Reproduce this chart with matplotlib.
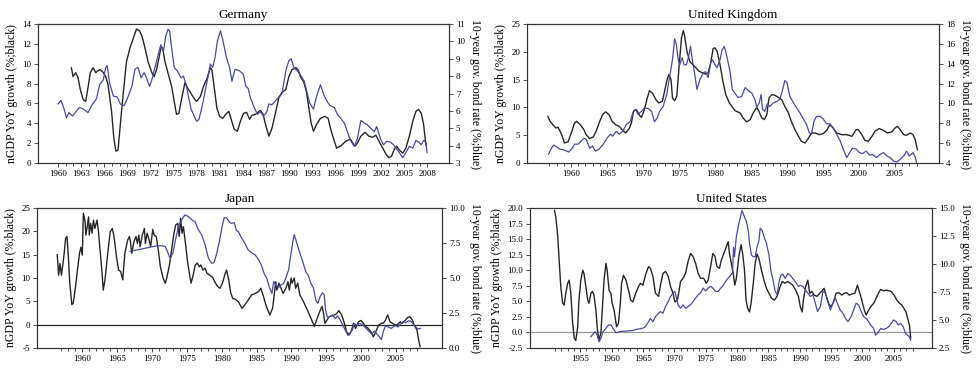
import matplotlib
matplotlib.use("Agg")
import matplotlib.pyplot as plt
from matplotlib.ticker import FixedLocator, FormatStrFormatter

plt.rcParams["font.family"] = ["Liberation Serif", "DejaVu Serif"]

# ============================================
# Germany
# ============================================
de_gdp_yr = [1961.74, 1961.96, 1962.3, 1962.6, 1962.9, 1963.26, 1963.6, 1963.9, 1964.2, 1964.57,
             1964.9, 1965.2, 1965.5, 1965.9, 1966.2, 1966.5, 1966.96, 1967.26, 1967.52, 1967.8,
             1968.1, 1968.5, 1968.9, 1969.35, 1969.8, 1970.2, 1970.6, 1970.9, 1971.3, 1971.7,
             1972.2, 1972.5, 1972.8, 1973.2, 1973.4, 1973.6, 1973.9, 1974.35, 1974.8, 1975.1,
             1975.4, 1975.7, 1976.1, 1976.5, 1976.8, 1977.2, 1977.6, 1978.0, 1978.5, 1978.9,
             1979.35, 1979.8, 1980.0, 1980.3, 1980.65, 1981.0, 1981.4, 1981.9, 1982.2, 1982.5,
             1982.9, 1983.3, 1983.7, 1984.1, 1984.5, 1984.9, 1985.2, 1985.65, 1986.3, 1986.65,
             1986.96, 1987.4, 1987.8, 1988.3, 1988.7, 1989.1, 1989.6, 1990.0, 1990.4, 1990.9,
             1991.2, 1991.5, 1991.96, 1992.3, 1992.6, 1992.9, 1993.2, 1993.6, 1994.1, 1994.65,
             1995.1, 1995.4, 1995.9, 1996.2, 1996.7, 1997.4, 1998.0, 1998.3, 1998.6, 1998.9,
             1999.35, 1999.9, 2000.4, 2000.9, 2001.3, 2001.7, 2002.2, 2002.6, 2003.0, 2003.35,
             2003.7, 2004.0, 2004.35, 2004.8, 2005.2, 2005.65, 2006.1, 2006.5, 2006.85, 2007.2,
             2007.5, 2007.8]
de_gdp = [9.6, 8.7, 9.1, 8.6, 7.4, 6.4, 6.2, 7.6, 9.1, 9.6,
          9.1, 9.3, 9.4, 9.1, 8.7, 7.9, 5.2, 2.5, 1.2, 1.3,
          3.9, 7.2, 10.2, 11.6, 12.6, 13.5, 13.3, 12.8, 11.6, 10.2,
          9.1, 8.7, 9.4, 10.9, 11.7, 11.6, 10.2, 8.9, 7.6, 6.2,
          4.9, 5.0, 6.6, 8.1, 7.6, 7.1, 6.6, 6.2, 6.7, 7.7,
          8.5, 9.6, 9.4, 7.6, 5.5, 4.7, 4.5, 5.0, 5.2, 4.4,
          3.4, 3.2, 4.2, 5.0, 5.1, 4.4, 4.8, 4.9, 5.3, 4.9,
          3.9, 2.7, 3.5, 5.2, 6.6, 7.1, 7.4, 8.7, 9.4, 9.6,
          9.4, 8.7, 8.1, 7.1, 5.5, 4.0, 3.2, 3.9, 4.5, 4.7,
          4.5, 3.5, 2.2, 1.5, 1.7, 2.2, 2.4, 2.0, 1.7, 2.0,
          2.7, 3.1, 2.7, 2.6, 2.8, 2.2, 1.5, 0.9, 0.55, 0.7,
          1.4, 1.7, 1.3, 1.0, 1.5, 2.7, 4.2, 5.2, 5.4, 5.0,
          3.9, 1.8]

de_bond_yr = [1960.0, 1960.4, 1960.8, 1961.1, 1961.4, 1961.9, 1962.4, 1962.8, 1963.3, 1963.9,
              1964.35, 1965.0, 1965.4, 1965.9, 1966.2, 1966.4, 1966.7, 1967.2, 1967.7, 1968.1,
              1968.6, 1969.0, 1969.6, 1970.0, 1970.4, 1970.8, 1971.2, 1971.5, 1971.9, 1972.2,
              1972.6, 1973.0, 1973.35, 1973.7, 1974.0, 1974.3, 1974.5, 1974.8, 1975.1, 1975.5,
              1976.0, 1976.3, 1976.65, 1977.0, 1977.3, 1977.6, 1978.0, 1978.3, 1978.7, 1979.1,
              1979.6, 1979.8, 1980.1, 1980.4, 1980.7, 1981.1, 1981.4, 1981.9, 1982.3, 1982.6,
              1983.0, 1983.6, 1984.1, 1984.4, 1984.7, 1985.0, 1985.4, 1985.9, 1986.3, 1986.7,
              1987.1, 1987.4, 1987.8, 1988.3, 1988.7, 1989.1, 1989.6, 1990.0, 1990.3, 1990.65,
              1991.1, 1991.6, 1992.0, 1992.4, 1992.7, 1993.2, 1993.6, 1994.1, 1994.6, 1995.1,
              1995.4, 1995.9, 1996.3, 1996.7, 1997.2, 1997.6, 1998.0, 1998.5, 1998.9, 1999.35,
              1999.8, 2000.2, 2000.65, 2001.1, 2001.4, 2001.9, 2002.3, 2002.7, 2003.2, 2003.6,
              2003.9, 2004.35, 2004.8, 2005.2, 2005.65, 2006.1, 2006.5, 2006.9, 2007.2, 2007.5,
              2007.8, 2007.96]
de_bond = [6.4, 6.6, 6.1, 5.6, 5.9, 5.7, 6.0, 6.2, 6.1, 5.9,
           6.3, 6.7, 7.5, 7.8, 8.5, 8.6, 7.6, 6.85, 6.8, 6.4,
           6.3, 6.7, 7.4, 8.4, 8.5, 7.9, 8.2, 7.9, 7.4, 7.8,
           8.5, 9.2, 9.8, 9.4, 10.3, 10.7, 10.6, 9.5, 8.5, 8.3,
           7.9, 8.0, 7.5, 6.7, 6.1, 5.8, 5.4, 5.5, 6.2, 7.1,
           8.2, 8.7, 8.5, 9.05, 10.0, 10.6, 10.1, 9.05, 8.5, 7.7,
           8.4, 8.3, 8.1, 7.4, 7.3, 6.75, 6.3, 5.8, 5.95, 5.7,
           5.9, 6.4, 6.35, 6.6, 6.8, 6.98, 8.3, 8.9, 9.0, 8.5,
           8.3, 8.0, 7.7, 7.0, 6.45, 6.1, 6.85, 7.5, 6.85, 6.45,
           6.3, 6.2, 5.8, 5.6, 5.3, 4.8, 4.3, 3.96, 4.4, 5.45,
           5.3, 5.2, 5.0, 4.8, 5.1, 4.4, 4.05, 4.25, 4.2, 4.05,
           3.86, 3.6, 3.3, 3.6, 3.96, 3.86, 4.3, 4.2, 4.05, 4.3,
           4.2, 3.6]

# ============================================
# United Kingdom
# ============================================
uk_gdp_yr = [1956.8, 1957.1, 1957.5, 1957.9, 1958.2, 1958.5, 1958.8, 1959.1, 1959.6, 1960.05,
             1960.5, 1960.8, 1961.3, 1961.8, 1962.1, 1962.6, 1963.1, 1963.5, 1964.0, 1964.4,
             1964.8, 1965.3, 1965.7, 1966.2, 1966.7, 1967.1, 1967.6, 1968.1, 1968.4, 1968.7,
             1969.1, 1969.5, 1969.8, 1970.2, 1970.6, 1970.9, 1971.3, 1971.8, 1972.2, 1972.7,
             1973.0, 1973.35, 1973.6, 1973.9, 1974.1, 1974.4, 1974.7, 1975.0, 1975.35, 1975.6,
             1975.8, 1976.1, 1976.5, 1976.9, 1977.3, 1977.8, 1978.3, 1978.7, 1979.05, 1979.4,
             1979.75, 1980.0, 1980.3, 1980.7, 1981.1, 1981.5, 1982.0, 1982.5, 1982.8, 1983.5,
             1983.9, 1984.4, 1984.9, 1985.3, 1985.8, 1986.1, 1986.5, 1986.85, 1987.2, 1987.5,
             1987.9, 1988.3, 1988.8, 1989.25, 1989.7, 1990.2, 1990.6, 1991.1, 1991.6, 1992.0,
             1992.5, 1993.0, 1993.4, 1993.9, 1994.5, 1995.05, 1995.5, 1995.95, 1996.4, 1996.9,
             1997.6, 1998.3, 1999.0, 1999.6, 1999.9, 2000.4, 2000.8, 2001.3, 2001.8, 2002.2,
             2002.8, 2003.4, 2003.95, 2004.55, 2005.0, 2005.35, 2005.7, 2006.2, 2006.6, 2007.1,
             2007.5, 2007.8, 2008.1]
uk_gdp = [8.4, 7.5, 6.9, 6.3, 6.45, 5.7, 4.8, 3.6, 3.8, 5.4,
          7.2, 7.5, 6.9, 6.0, 5.1, 4.4, 4.7, 5.7, 7.5, 8.7,
          9.2, 8.7, 7.5, 6.9, 6.6, 6.0, 5.4, 6.2, 7.2, 9.4,
          9.6, 8.6, 8.2, 9.6, 11.7, 13.0, 12.6, 11.4, 10.8, 11.1,
          12.9, 15.0, 15.9, 15.0, 11.7, 11.2, 12.0, 17.1, 22.5, 23.8,
          22.8, 20.1, 18.3, 17.7, 17.2, 16.5, 16.2, 16.0, 16.2, 18.0,
          20.6, 20.7, 20.1, 17.7, 14.7, 12.3, 10.8, 9.9, 9.4, 9.0,
          8.1, 7.4, 7.8, 9.0, 10.0, 9.3, 8.1, 7.8, 8.7, 11.7,
          12.3, 12.2, 11.8, 11.4, 10.2, 9.0, 7.5, 6.0, 4.8, 3.9,
          3.6, 4.5, 5.4, 5.4, 5.1, 5.3, 5.85, 6.9, 6.3, 5.4,
          5.1, 5.1, 4.8, 6.0, 6.0, 5.1, 4.1, 3.9, 4.8, 5.7,
          6.2, 5.85, 5.4, 5.6, 6.3, 6.6, 6.0, 5.1, 5.0, 5.4,
          5.1, 4.2, 2.4]

uk_bond_yr = [1956.9, 1957.3, 1957.6, 1958.05, 1958.5, 1959.1, 1959.7, 1960.2, 1960.5, 1961.0,
              1961.4, 1961.8, 1962.1, 1962.6, 1963.0, 1963.4, 1963.9, 1964.5, 1965.0, 1965.5,
              1965.8, 1966.3, 1966.7, 1967.2, 1967.7, 1968.2, 1968.6, 1969.0, 1969.3, 1969.8,
              1970.2, 1970.7, 1971.2, 1971.6, 1972.0, 1972.3, 1972.8, 1973.3, 1973.7, 1974.1,
              1974.4, 1974.65, 1974.9, 1975.1, 1975.45, 1975.7, 1976.05, 1976.4, 1976.6, 1976.9,
              1977.2, 1977.5, 1977.9, 1978.4, 1978.7, 1979.05, 1979.4, 1979.65, 1980.0, 1980.3,
              1980.7, 1981.0, 1981.3, 1981.6, 1982.1, 1982.4, 1982.8, 1983.2, 1983.7, 1984.2,
              1984.6, 1985.1, 1985.55, 1985.8, 1986.15, 1986.4, 1986.6, 1986.9, 1987.3, 1987.6,
              1988.1, 1988.6, 1989.0, 1989.4, 1989.7, 1990.0, 1990.4, 1990.9, 1991.3, 1991.8,
              1992.3, 1992.7, 1993.1, 1993.4, 1993.75, 1994.1, 1994.6, 1995.05, 1995.5, 1995.95,
              1996.4, 1996.9, 1997.4, 1997.8, 1998.3, 1998.7, 1999.1, 1999.6, 2000.05, 2000.5,
              2001.0, 2001.45, 2001.9, 2002.4, 2002.9, 2003.4, 2003.9, 2004.3, 2004.8, 2005.25,
              2005.7, 2006.2, 2006.6, 2007.0, 2007.5, 2007.8, 2008.0]
uk_bond = [4.9, 5.5, 5.8, 5.6, 5.4, 5.3, 5.1, 5.5, 5.9, 5.9,
           6.2, 6.5, 6.4, 5.5, 5.7, 5.2, 5.4, 5.9, 6.5, 6.9,
           6.7, 7.2, 6.9, 7.2, 7.9, 8.15, 9.05, 9.4, 8.9, 9.2,
           9.55, 9.5, 9.2, 8.15, 8.55, 9.2, 9.7, 10.9, 12.7, 14.4,
           16.5, 15.9, 14.4, 13.9, 14.6, 13.9, 13.9, 14.9, 15.75, 14.2,
           12.9, 11.4, 12.4, 13.1, 13.2, 12.6, 14.1, 14.4, 13.9, 13.6,
           14.4, 15.4, 15.75, 14.9, 13.2, 11.4, 11.0, 10.6, 10.7, 11.6,
           11.3, 11.05, 10.4, 9.6, 10.05, 10.9, 9.4, 9.2, 10.0, 9.7,
           10.05, 10.2, 10.4, 11.4, 12.3, 12.1, 10.7, 10.05, 9.6, 9.05,
           8.4, 7.9, 7.05, 6.9, 8.2, 8.7, 8.7, 8.4, 7.95, 7.95,
           7.55, 6.9, 6.2, 5.4, 4.55, 5.05, 5.5, 5.4, 5.05, 4.95,
           5.2, 4.8, 4.85, 4.55, 4.85, 5.05, 4.7, 4.55, 4.2, 4.1,
           4.35, 4.7, 5.2, 4.7, 5.05, 4.6, 4.0]

# ============================================
# Japan
# ============================================
jp_gdp_yr = [1956.4, 1956.6, 1956.8, 1957.0, 1957.2, 1957.4, 1957.6, 1957.8, 1958.0, 1958.2,
             1958.5, 1958.7, 1959.0, 1959.3, 1959.6, 1959.8, 1960.0, 1960.15, 1960.4, 1960.5,
             1960.7, 1960.9, 1961.0, 1961.2, 1961.4, 1961.6, 1961.8, 1962.1, 1962.3, 1962.5,
             1962.8, 1963.0, 1963.25, 1963.6, 1964.0, 1964.3, 1964.55, 1964.9, 1965.2, 1965.5,
             1965.8, 1966.1, 1966.5, 1966.75, 1966.9, 1967.1, 1967.4, 1967.7, 1967.9, 1968.1,
             1968.3, 1968.6, 1968.9, 1969.05, 1969.3, 1969.6, 1969.8, 1970.1, 1970.3, 1970.6,
             1970.9, 1971.2, 1971.6, 1971.9, 1972.1, 1972.5, 1972.8, 1973.15, 1973.4, 1973.7,
             1973.9, 1974.1, 1974.3, 1974.5, 1974.8, 1975.1, 1975.4, 1975.6, 1975.9, 1976.2,
             1976.5, 1976.8, 1977.0, 1977.3, 1977.6, 1977.9, 1978.3, 1978.7, 1979.0, 1979.4,
             1979.75, 1980.1, 1980.5, 1980.7, 1981.0, 1981.3, 1981.6, 1981.9, 1982.4, 1982.9,
             1983.3, 1983.8, 1984.3, 1984.8, 1985.3, 1985.6, 1986.0, 1986.4, 1986.9, 1987.3,
             1987.55, 1987.75, 1987.9, 1988.2, 1988.5, 1988.8, 1989.2, 1989.5, 1989.7, 1989.95,
             1990.1, 1990.4, 1990.6, 1990.9, 1991.2, 1991.6, 1991.95, 1992.3, 1992.7, 1993.0,
             1993.3, 1993.6, 1993.95, 1994.25, 1994.4, 1994.6, 1994.8, 1995.1, 1995.4, 1995.8,
             1996.2, 1996.5, 1996.8, 1997.2, 1997.6, 1997.9, 1998.3, 1998.65, 1998.9, 1999.2,
             1999.6, 2000.0, 2000.3, 2000.7, 2001.0, 2001.4, 2001.75, 2002.1, 2002.5, 2002.9,
             2003.2, 2003.5, 2003.8, 2004.15, 2004.5, 2004.9, 2005.25, 2005.6, 2005.9, 2006.3,
             2006.7, 2007.0, 2007.35, 2007.6, 2008.0, 2008.2, 2008.45]
jp_gdp = [15.0, 10.6, 13.1, 10.6, 12.8, 15.3, 18.5, 18.9, 14.6, 8.9,
          4.3, 4.6, 7.8, 11.7, 15.3, 16.6, 14.9, 23.9, 22.1, 19.2,
          21.0, 23.1, 19.2, 21.7, 19.6, 22.4, 20.6, 22.4, 20.3, 16.7,
          11.7, 7.4, 9.6, 14.6, 19.9, 20.6, 18.9, 14.6, 11.7, 11.4,
          9.6, 15.3, 18.1, 18.9, 17.8, 15.3, 17.8, 18.9, 17.4, 19.2,
          16.7, 19.2, 20.6, 17.4, 19.6, 18.1, 16.7, 20.4, 19.2, 18.9,
          16.0, 12.4, 9.9, 8.9, 9.9, 12.8, 16.0, 19.6, 21.4, 21.7,
          18.9, 22.8, 19.6, 21.0, 17.4, 13.5, 10.6, 8.9, 10.6, 12.8,
          13.2, 12.4, 12.8, 11.7, 12.1, 11.0, 10.6, 10.1, 9.2, 8.2,
          7.8, 8.9, 11.0, 11.7, 9.6, 6.7, 5.6, 5.5, 4.9, 3.5,
          4.2, 5.3, 6.4, 6.7, 7.1, 7.8, 6.0, 3.9, 2.1, 3.5,
          6.7, 9.2, 7.4, 8.9, 7.8, 6.7, 7.8, 9.2, 7.4, 10.0,
          8.9, 10.0, 7.8, 8.9, 6.4, 5.3, 4.2, 3.1, 1.7, 0.6,
          -0.4, 1.0, 2.4, 3.5, 3.9, 2.4, 0.3, 1.0, 1.7, 1.9,
          2.1, 2.4, 3.0, 2.1, 0.3, -1.5, -2.2, -1.1, 0.3, -0.8,
          0.6, 0.9, 0.3, -0.4, -0.8, -1.5, -2.6, -1.5, -0.1, 0.3,
          0.3, 1.0, 2.1, 0.6, 0.3, -0.1, 0.1, 0.6, 0.3, 0.9,
          1.6, 1.7, 1.0, -0.1, -1.1, -2.9, -4.7]

jp_bond_yr = [1966.85, 1967.8, 1968.75, 1969.7, 1970.7, 1971.4, 1971.9, 1972.2, 1972.6, 1973.0,
              1973.35, 1973.8, 1974.25, 1974.7, 1975.2, 1975.7, 1976.2, 1976.6, 1977.1, 1977.6,
              1978.1, 1978.55, 1978.9, 1979.3, 1979.7, 1980.0, 1980.35, 1980.7, 1981.1, 1981.4,
              1981.8, 1982.1, 1982.4, 1982.8, 1983.3, 1983.8, 1984.3, 1984.8, 1985.3, 1985.7,
              1986.1, 1986.45, 1986.8, 1987.2, 1987.45, 1987.75, 1988.1, 1988.5, 1988.85, 1989.2,
              1989.6, 1989.95, 1990.2, 1990.4, 1990.65, 1991.0, 1991.4, 1991.7, 1992.05, 1992.4,
              1992.8, 1993.15, 1993.5, 1993.8, 1994.1, 1994.45, 1994.7, 1994.9, 1995.2, 1995.5,
              1995.9, 1996.3, 1996.6, 1997.0, 1997.3, 1997.7, 1998.1, 1998.4, 1998.75, 1999.0,
              1999.4, 1999.7, 2000.1, 2000.5, 2000.8, 2001.1, 2001.5, 2001.9, 2002.2, 2002.6,
              2002.9, 2003.2, 2003.5, 2003.9, 2004.3, 2004.6, 2004.95, 2005.3, 2005.7, 2006.1,
              2006.4, 2006.8, 2007.2, 2007.5, 2007.8, 2008.2, 2008.5]
jp_bond = [6.9, 7.0, 7.1, 7.2, 7.3, 7.3, 7.25, 6.9, 6.4, 6.8,
           7.7, 8.7, 9.15, 9.5, 9.4, 9.15, 9.0, 8.5, 8.1, 7.4,
           6.4, 6.05, 6.1, 6.8, 7.7, 8.55, 9.3, 9.3, 9.0, 8.9,
           8.95, 8.4, 8.3, 7.9, 7.5, 7.0, 6.8, 6.65, 6.3, 5.9,
           5.3, 5.0, 4.4, 3.9, 4.75, 4.5, 4.3, 4.5, 4.6, 5.0,
           5.6, 6.8, 7.6, 8.1, 7.7, 7.1, 6.5, 6.05, 5.45, 5.2,
           4.6, 4.3, 3.4, 3.2, 3.65, 3.95, 3.8, 2.7, 2.1, 2.25,
           2.35, 2.1, 2.3, 2.0, 1.7, 1.3, 0.9, 1.05, 1.3, 1.75,
           1.6, 1.75, 1.7, 1.5, 1.35, 1.2, 1.0, 1.2, 1.05, 0.8,
           0.6, 1.2, 1.6, 1.5, 1.4, 1.5, 1.6, 1.5, 1.75, 1.9,
           1.8, 1.95, 1.9, 1.7, 1.5, 1.35, 1.4]

# ============================================
# United States
# ============================================
us_gdp_yr = [1950.9, 1951.1, 1951.4, 1951.65, 1951.9, 1952.2, 1952.45, 1952.7, 1953.0, 1953.25,
             1953.5, 1953.8, 1954.05, 1954.3, 1954.6, 1954.8, 1955.1, 1955.4, 1955.6, 1955.9,
             1956.2, 1956.4, 1956.7, 1956.95, 1957.2, 1957.5, 1957.75, 1958.0, 1958.3, 1958.55,
             1958.8, 1959.1, 1959.3, 1959.6, 1959.9, 1960.1, 1960.4, 1960.8, 1961.1, 1961.4,
             1961.6, 1961.9, 1962.3, 1962.7, 1963.05, 1963.4, 1963.85, 1964.3, 1964.6, 1965.0,
             1965.4, 1965.9, 1966.2, 1966.6, 1967.0, 1967.5, 1967.8, 1968.2, 1968.6, 1969.05,
             1969.4, 1969.8, 1970.1, 1970.5, 1970.75, 1971.0, 1971.4, 1971.8, 1972.2, 1972.6,
             1973.0, 1973.4, 1973.8, 1974.2, 1974.7, 1975.1, 1975.4, 1975.8, 1976.15, 1976.5,
             1976.8, 1977.2, 1977.5, 1977.9, 1978.3, 1978.6, 1978.8, 1979.1, 1979.4, 1979.65,
             1979.9, 1980.3, 1980.65, 1980.9, 1981.2, 1981.45, 1981.7, 1982.0, 1982.25, 1982.6,
             1982.9, 1983.2, 1983.5, 1983.9, 1984.3, 1984.7, 1985.1, 1985.5, 1985.96, 1986.4,
             1986.8, 1987.2, 1987.65, 1988.1, 1988.5, 1988.9, 1989.35, 1989.8, 1990.1, 1990.4,
             1990.6, 1990.95, 1991.3, 1991.6, 1991.95, 1992.3, 1992.75, 1993.2, 1993.5, 1993.9,
             1994.2, 1994.6, 1995.0, 1995.4, 1995.8, 1996.25, 1996.7, 1997.1, 1997.5, 1997.9,
             1998.4, 1998.8, 1999.2, 1999.5, 1999.9, 2000.3, 2000.6, 2001.0, 2001.3, 2001.8,
             2002.2, 2002.6, 2002.9, 2003.35, 2003.8, 2004.2, 2004.6, 2005.05, 2005.5, 2005.9,
             2006.3, 2006.6, 2006.95, 2007.2, 2007.5, 2007.7]
us_gdp = [19.6, 18.6, 15.7, 11.6, 7.4, 4.7, 4.4, 6.3, 7.9, 8.4,
          6.3, 1.5, -0.9, -1.3, 0.9, 5.2, 8.4, 10.0, 9.5, 7.4,
          5.2, 4.7, 6.3, 6.6, 6.0, 3.6, 0.4, -1.2, -0.1, 4.1,
          8.4, 11.1, 10.0, 6.8, 6.3, 4.7, 3.6, 0.9, 1.5, 4.7,
          7.9, 9.2, 8.4, 6.8, 5.2, 4.9, 6.3, 7.4, 7.9, 7.6,
          9.2, 10.6, 10.3, 9.0, 6.3, 5.8, 7.6, 9.5, 9.8, 9.0,
          7.4, 6.3, 4.9, 5.2, 6.6, 8.2, 8.7, 9.5, 11.4, 12.7,
          12.2, 11.1, 9.5, 8.7, 8.7, 7.9, 8.4, 10.6, 12.7, 12.2,
          10.6, 10.3, 11.6, 12.7, 13.8, 14.6, 12.7, 11.1, 9.5, 7.6,
          8.7, 12.2, 14.1, 12.7, 10.0, 5.2, 3.9, 3.3, 4.7, 7.9,
          11.1, 12.6, 11.9, 10.0, 8.4, 7.1, 6.3, 5.5, 5.2, 5.8,
          7.1, 8.2, 7.9, 8.2, 7.9, 7.6, 6.8, 5.8, 4.1, 3.3,
          5.2, 7.4, 8.4, 6.3, 6.6, 6.0, 5.8, 6.3, 6.6, 7.1,
          6.0, 4.7, 4.1, 4.9, 6.3, 6.4, 6.0, 6.3, 6.4, 6.0,
          6.2, 6.3, 7.6, 6.6, 5.2, 3.6, 2.8, 3.6, 4.1, 4.7,
          5.5, 6.4, 6.9, 6.7, 6.8, 6.7, 6.6, 6.0, 5.2, 4.7,
          4.4, 3.9, 3.3, 2.3, 1.2, -0.9]

us_bond_yr = [1956.7, 1957.1, 1957.4, 1957.7, 1958.0, 1958.3, 1958.65, 1959.1, 1959.5, 1959.9,
              1960.25, 1960.7, 1961.2, 1961.7, 1962.3, 1962.8, 1963.3, 1963.85, 1964.4, 1964.9,
              1965.4, 1965.9, 1966.2, 1966.6, 1967.0, 1967.5, 1967.8, 1968.2, 1968.6, 1969.05,
              1969.4, 1969.8, 1970.1, 1970.3, 1970.6, 1971.0, 1971.4, 1971.8, 1972.2, 1972.6,
              1973.0, 1973.4, 1973.8, 1974.2, 1974.6, 1975.0, 1975.4, 1975.8, 1976.15, 1976.6,
              1977.0, 1977.4, 1977.7, 1978.2, 1978.6, 1979.0, 1979.3, 1979.45, 1979.6, 1979.9,
              1980.3, 1980.55, 1980.8, 1981.2, 1981.5, 1981.8, 1982.0, 1982.3, 1982.6, 1982.9,
              1983.2, 1983.5, 1983.7, 1984.0, 1984.3, 1984.7, 1985.1, 1985.4, 1985.75, 1986.1,
              1986.4, 1986.7, 1987.0, 1987.3, 1987.7, 1988.1, 1988.5, 1988.9, 1989.35, 1989.8,
              1990.1, 1990.5, 1990.9, 1991.3, 1991.7, 1992.1, 1992.5, 1992.85, 1993.3, 1993.7,
              1994.1, 1994.4, 1994.9, 1995.3, 1995.7, 1996.0, 1996.45, 1996.9, 1997.3, 1997.7,
              1998.2, 1998.6, 1999.0, 1999.4, 1999.7, 2000.2, 2000.6, 2001.0, 2001.3, 2001.8,
              2002.1, 2002.6, 2002.9, 2003.35, 2003.8, 2004.2, 2004.6, 2004.95, 2005.4, 2005.7,
              2006.1, 2006.5, 2006.9, 2007.2, 2007.5, 2007.7]
us_bond = [3.5, 3.8, 3.95, 3.65, 3.05, 3.35, 3.95, 4.25, 4.55, 4.55,
           4.25, 3.85, 3.95, 4.0, 4.0, 4.05, 4.05, 4.15, 4.2, 4.25,
           4.4, 4.85, 5.15, 4.85, 5.3, 5.6, 5.75, 5.6, 6.2, 6.65,
           7.1, 7.4, 7.55, 7.1, 6.35, 6.05, 6.35, 6.05, 6.2, 6.35,
           6.65, 6.95, 7.25, 7.4, 7.85, 7.6, 7.85, 8.0, 7.85, 7.55,
           7.55, 7.85, 8.0, 8.45, 8.75, 9.0, 9.2, 11.5, 10.65, 12.45,
           13.6, 14.2, 14.8, 14.2, 13.8, 13.0, 11.85, 10.8, 10.65, 10.65,
           11.5, 12.1, 13.2, 13.0, 12.45, 11.85, 10.8, 9.45, 8.55, 7.55,
           7.25, 8.4, 9.0, 9.1, 8.7, 9.15, 9.0, 8.7, 8.4, 8.0,
           8.1, 8.0, 7.7, 7.4, 7.1, 7.25, 6.5, 5.75, 6.2, 7.55,
           7.4, 6.8, 5.9, 6.5, 6.95, 6.5, 5.9, 5.6, 5.15, 4.85,
           5.3, 5.9, 6.5, 6.35, 5.9, 5.3, 5.15, 4.85, 4.55, 4.25,
           3.65, 3.95, 4.25, 4.15, 4.25, 4.4, 4.7, 5.0, 4.85, 4.55,
           4.7, 4.4, 3.8, 3.65, 3.5, 3.2]

# ============================================
# Plot
# ============================================
BLACK = "#262626"
BLUE = "#4b4b9e"
SPINE = "#333333"

fig = plt.figure(figsize=(9.79, 3.75), dpi=100)


def panel(rect, title, gdp_yr, gdp, bond_yr, bond, xlim, ylim, y2lim,
          yticks, y2ticks, yfmt, y2fmt, xmajor, xminor, zero=None):
    ax = fig.add_axes(rect)
    ax2 = ax.twinx()

    if zero is not None:
        ax.axhline(0, color=zero, lw=0.9, zorder=1)
    ax.plot(gdp_yr, gdp, color=BLACK, lw=1.0, zorder=3)
    ax2.plot(bond_yr, bond, color=BLUE, lw=0.9, zorder=2)

    ax.set_xlim(*xlim)
    ax.set_ylim(*ylim)
    ax2.set_ylim(*y2lim)

    ax.xaxis.set_major_locator(FixedLocator(xmajor))
    ax.xaxis.set_minor_locator(FixedLocator(xminor))
    ax.yaxis.set_major_locator(FixedLocator(yticks))
    ax2.yaxis.set_major_locator(FixedLocator(y2ticks))
    ax.yaxis.set_major_formatter(FormatStrFormatter(yfmt))
    ax2.yaxis.set_major_formatter(FormatStrFormatter(y2fmt))

    for a in (ax, ax2):
        a.tick_params(axis="both", which="major", direction="out", length=3,
                      width=0.6, labelsize=6.5, pad=2, color=SPINE)
        a.tick_params(axis="both", which="minor", direction="out", length=2,
                      width=0.6, color=SPINE)
        for s in a.spines.values():
            s.set_color(SPINE)
            s.set_linewidth(0.8)

    ax.set_title(title, fontsize=9.5, pad=4)
    ax.set_ylabel("nGDP YoY growth (%;black)", fontsize=8.5, labelpad=3)
    ax2.set_ylabel("10-year gov. bond rate (%;blue)", fontsize=8.5,
                   rotation=270, va="bottom", labelpad=3)
    return ax, ax2


panel([0.0388, 0.5653, 0.4198, 0.3707], "Germany",
      de_gdp_yr, de_gdp, de_bond_yr, de_bond,
      (1957.4, 2010.8), (0, 14), (3, 11),
      list(range(0, 15, 2)), list(range(3, 12)), "%d", "%d",
      list(range(1960, 2009, 3)), list(range(1960, 2009)))

panel([0.5383, 0.5653, 0.4208, 0.3707], "United Kingdom",
      uk_gdp_yr, uk_gdp, uk_bond_yr, uk_bond,
      (1953.9, 2011.1), (0, 25), (4, 18),
      list(range(0, 26, 5)), list(range(4, 19, 2)), "%d", "%d",
      list(range(1960, 2006, 5)), list(range(1957, 2009)))

panel([0.0378, 0.0720, 0.4137, 0.3733], "Japan",
      jp_gdp_yr, jp_gdp, jp_bond_yr, jp_bond,
      (1953.5, 2011.6), (-5, 25), (0, 10),
      list(range(-5, 26, 5)), [0, 2.5, 5, 7.5, 10], "%d", "%.1f",
      list(range(1960, 2006, 5)), list(range(1957, 2009)), zero=BLACK)

panel([0.5414, 0.0720, 0.4106, 0.3733], "United States",
      us_gdp_yr, us_gdp, us_bond_yr, us_bond,
      (1947.0, 2011.1), (-2.5, 20), (2.5, 15),
      [-2.5, 0, 2.5, 5, 7.5, 10, 12.5, 15, 17.5, 20], [2.5, 5, 7.5, 10, 12.5, 15],
      "%.1f", "%.1f",
      list(range(1955, 2006, 5)), list(range(1951, 2009)), zero="#9a9a9a")

fig.savefig("out.png", dpi=100)
